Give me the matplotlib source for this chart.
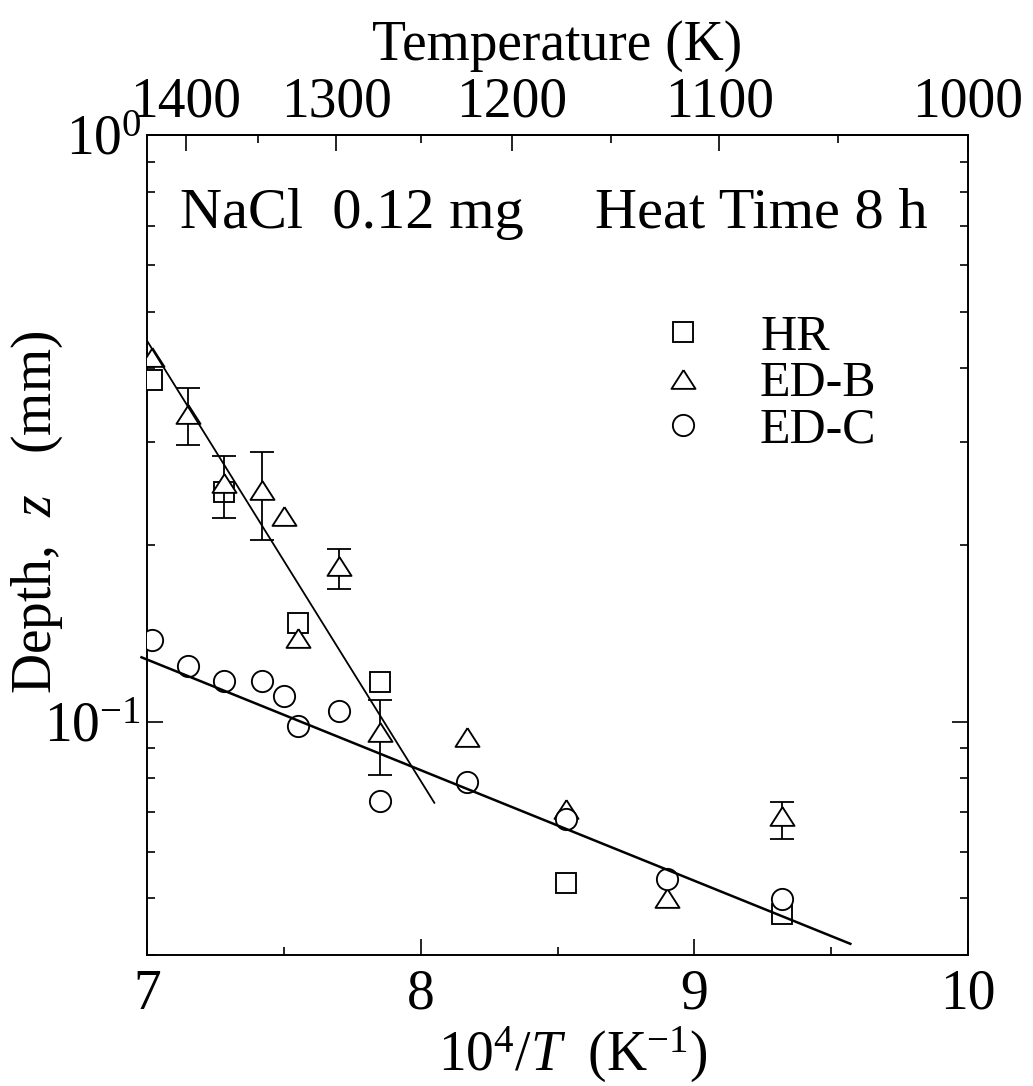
import numpy as np
import matplotlib
matplotlib.use('Agg')
import matplotlib.pyplot as plt
from matplotlib.lines import Line2D
from matplotlib.ticker import FixedLocator, NullFormatter, LogLocator

plt.rcParams['font.family'] = ['Liberation Serif', 'DejaVu Serif']
plt.rcParams['mathtext.fontset'] = 'custom'
plt.rcParams['mathtext.rm'] = 'Liberation Serif'
plt.rcParams['mathtext.it'] = 'Liberation Serif:italic'
plt.rcParams['mathtext.bf'] = 'Liberation Serif:bold'

# ---------------- data ----------------
inv_T = [7.02, 7.15, 7.28, 7.42, 7.50, 7.55, 7.70, 7.85, 8.17, 8.53, 8.90, 9.32]

hr_x = [7.02, 7.28, 7.55, 7.85, 8.53, 9.32]
hr_y = [0.382, 0.246, 0.147, 0.117, 0.053, 0.047]

edb_y = [0.418, 0.335, 0.255, 0.248, 0.224, 0.139, 0.184, 0.096, 0.094, 0.071, 0.050, 0.069]
edb_err_lo = [0, 0.039, 0.033, 0.044, 0, 0, 0.016, 0.015, 0, 0, 0, 0.006]
edb_err_hi = [0, 0.036, 0.029, 0.040, 0, 0, 0.013, 0.013, 0, 0, 0, 0.004]

edc_y = [0.1375, 0.1242, 0.1171, 0.1174, 0.1105, 0.0983, 0.1044, 0.0731, 0.0788, 0.0681, 0.054, 0.0499]

fit_hi_x = [7.0, 8.05]
fit_hi_y = [0.446, 0.0727]
fit_lo_x = [6.98, 9.57]
fit_lo_y = [0.1287, 0.0418]

x_major = [7, 8, 9, 10]
x_minor = [7.5, 8.5, 9.5]
y_major = [0.1, 1.0]
y_major_labels = ['$10^{-1}$', '$10^{0}$']
T_major = [1400, 1300, 1200, 1100, 1000]
T_minor = [1350, 1250, 1150, 1050]

labels = ['HR', 'ED-B', 'ED-C']

# ---------------- figure ----------------
FS = 40
fig = plt.figure(figsize=(10.33, 10.86), dpi=100)
ax = fig.add_axes([0.1423, 0.1206, 0.7948, 0.7551])

tri = [(0, 0.78), (-1, -0.78), (1, -0.78), (0, 0.78)]
mew = 1.35

ax.plot(hr_x, hr_y, linestyle='none', marker='s', ms=14.8, mfc='white', mec='black',
        mew=mew, zorder=3)

x_arr = np.array(inv_T)
lo = np.array(edb_err_lo)
hi = np.array(edb_err_hi)
has_err = (lo > 0) | (hi > 0)
ax.errorbar(x_arr[has_err], np.array(edb_y)[has_err],
            yerr=[lo[has_err], hi[has_err]], fmt='none', ecolor='black',
            elinewidth=1.3, capsize=8.3, capthick=1.3, zorder=3.5)
ax.plot(inv_T, edb_y, linestyle='none', marker=tri, ms=17.3, mfc='white', mec='black',
        mew=mew, zorder=4)
ax.plot(inv_T, edc_y, linestyle='none', marker='o', ms=15.3, mfc='white', mec='black',
        mew=mew, zorder=5)

ax.plot(fit_hi_x, fit_hi_y, color='black', lw=1.3, zorder=6)
ax.plot(fit_lo_x, fit_lo_y, color='black', lw=1.8, zorder=6, clip_on=False)

ax.set_xlim(7, 10)
ax.set_yscale('log')
ax.set_ylim(0.04, 1)

ax.set_xticks(x_major)
ax.set_xticklabels([str(v) for v in x_major])
ax.xaxis.set_minor_locator(FixedLocator(x_minor))
ax.xaxis.set_minor_formatter(NullFormatter())
ax.set_yticks(y_major)
ax.set_yticklabels(y_major_labels)
ax.yaxis.set_minor_locator(LogLocator(base=10, subs=np.arange(2, 10)))
ax.yaxis.set_minor_formatter(NullFormatter())

ax.tick_params(axis='both', which='both', direction='in', top=False, right=True,
               labelsize=FS, width=1.2)
ax.tick_params(axis='both', which='major', length=11.5)
ax.tick_params(axis='both', which='minor', length=5.8)
ax.tick_params(axis='x', which='major', pad=10)
ax.tick_params(axis='y', which='major', pad=4)
for s in ax.spines.values():
    s.set_linewidth(1.4)

ax.set_xlabel(r'$10^4/T\ \ (\mathrm{K}^{-1})$', fontsize=FS)
ax.xaxis.set_label_coords(0.519, -0.0845)
ax.set_ylabel(r'Depth,  $z$   (mm)', fontsize=FS)
ax.yaxis.set_label_coords(-0.1, 0.54)

sec = ax.secondary_xaxis('top', functions=(lambda x: 1e4 / x, lambda t: 1e4 / t))
sec.set_xticks(T_major)
sec.set_xticklabels([str(v) for v in T_major])
sec.xaxis.set_minor_locator(FixedLocator(T_minor))
sec.xaxis.set_minor_formatter(NullFormatter())
sec.tick_params(axis='x', which='both', direction='in', width=1.2, labelsize=FS)
sec.tick_params(axis='x', which='major', length=11.5, pad=4.5)
sec.tick_params(axis='x', which='minor', length=5.8)
sec.spines['top'].set_linewidth(1.4)
sec.set_xlabel('Temperature (K)', fontsize=FS, labelpad=12)

ax.text(0.040, 0.8866, 'NaCl  0.12 mg', transform=ax.transAxes, fontsize=42,
        ha='left', va='baseline')
ax.text(0.951, 0.8866, 'Heat Time 8 h', transform=ax.transAxes, fontsize=42,
        ha='right', va='baseline')

handles = [
    Line2D([], [], linestyle='none', marker='s', ms=14.8, mfc='white', mec='black', mew=mew),
    Line2D([], [], linestyle='none', marker=tri, ms=17.3, mfc='white', mec='black', mew=mew),
    Line2D([], [], linestyle='none', marker='o', ms=15.3, mfc='white', mec='black', mew=mew),
]
ax.legend(handles, labels, loc='upper left', bbox_to_anchor=(0.6224, 0.7817),
          frameon=False, fontsize=36, handlelength=1.0, handletextpad=1.04,
          labelspacing=0.0, borderpad=0, borderaxespad=0, numpoints=1)

fig.savefig('out.png', dpi=100)
